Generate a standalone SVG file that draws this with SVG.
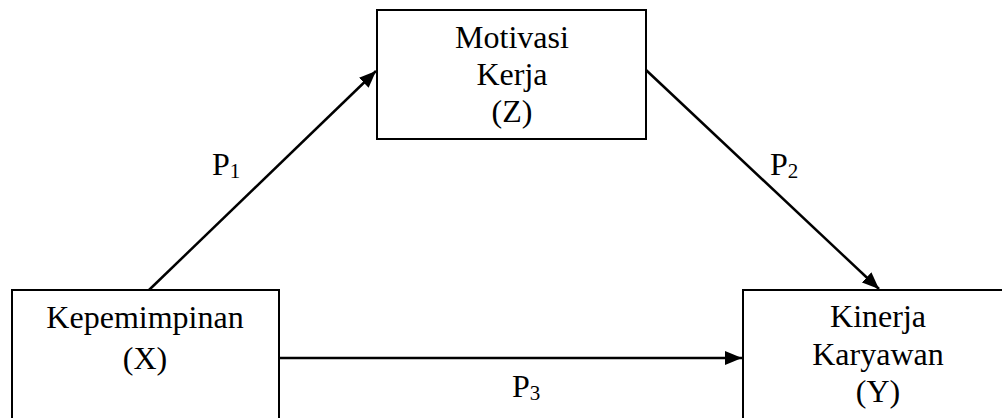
<svg xmlns="http://www.w3.org/2000/svg" width="1002" height="418" viewBox="0 0 1002 418">
<style>
.box{fill:#fff;stroke:#000;stroke-width:2}
.t{font-family:'Liberation Serif','DejaVu Serif',serif;font-size:32px;fill:#000;text-anchor:middle}
.lbl{font-family:'Liberation Serif','DejaVu Serif',serif;font-size:32px;fill:#000}
.sub{font-size:21px}
.c{stroke:#000;stroke-width:2.5;fill:none}
</style>
<defs>
<marker id="ah" markerUnits="userSpaceOnUse" markerWidth="18" markerHeight="14" refX="17" refY="7" orient="auto">
<path d="M0,0 L17,7 L0,14 z" fill="#000"/>
</marker>
</defs>
<rect width="1002" height="418" fill="#fff"/>
<g id="connectors">
<line class="c" x1="149" y1="290" x2="376" y2="71" marker-end="url(#ah)"/>
<line class="c" x1="646" y1="70" x2="879" y2="289" marker-end="url(#ah)"/>
<line class="c" x1="279" y1="358" x2="742" y2="358" marker-end="url(#ah)"/>
<text class="lbl" x="212" y="175">P<tspan class="sub" dy="3">1</tspan></text>
<text class="lbl" x="770" y="175">P<tspan class="sub" dy="3">2</tspan></text>
<text class="lbl" x="512" y="397">P<tspan class="sub" dy="3">3</tspan></text>
</g>
<g id="motivasi">
<rect class="box" x="377" y="10" width="269" height="129"/>
<text class="t" x="512" y="48">Motivasi</text>
<text class="t" x="512" y="85">Kerja</text>
<text class="t" x="512" y="122">(Z)</text>
</g>
<g id="kepemimpinan">
<rect class="box" x="12" y="290" width="267" height="140"/>
<text class="t" x="145" y="328">Kepemimpinan</text>
<text class="t" x="145" y="369">(X)</text>
</g>
<g id="kinerja">
<rect class="box" x="743" y="290" width="270" height="140"/>
<text class="t" x="878" y="327">Kinerja</text>
<text class="t" x="878" y="365">Karyawan</text>
<text class="t" x="878" y="402">(Y)</text>
</g>
</svg>
